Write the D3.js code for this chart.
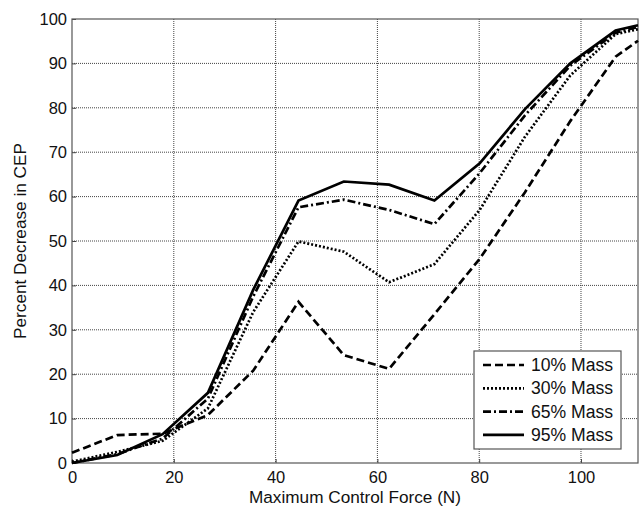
<!DOCTYPE html>
<html>
<head>
<meta charset="utf-8">
<script src="https://cdn.jsdelivr.net/npm/d3@7"></script>
<style>
  html, body { margin: 0; padding: 0; background: #fff; }
  svg { display: block; font-family: "Liberation Sans", Arial, sans-serif; }
</style>
</head>
<body>
<svg id="chart" width="641" height="510"></svg>
<script>
// Control force samples (N), 2 lbf steps
const forces = [0, 8.9, 17.8, 26.7, 35.6, 44.5, 53.4, 62.3, 71.2, 80.1, 89.0, 97.9, 106.8, 111.2];

const mass10 = [2.3, 6.3, 6.6, 10.8, 20.8, 36.3, 24.3, 21.2, 33.5, 46.0, 61.0, 77.0, 91.5, 95.1];
const mass30 = [0.3, 2.5, 5.0, 12.3, 34.0, 49.9, 47.6, 40.7, 44.8, 57.0, 73.5, 87.3, 96.6, 97.7];
const mass65 = [0.0, 2.0, 5.5, 14.5, 37.5, 57.6, 59.3, 57.0, 53.8, 65.3, 78.3, 89.5, 96.9, 98.2];
const mass95 = [0.0, 1.8, 6.5, 15.8, 39.0, 59.1, 63.4, 62.7, 59.1, 67.5, 79.7, 90.0, 97.4, 98.6];

const seriesNames = ["10% Mass", "30% Mass", "65% Mass", "95% Mass"];
const seriesValues = [mass10, mass30, mass65, mass95];
const dashes = ["8,4", "2,2", "8,3,2,3", null];

const xTicks = [0, 20, 40, 60, 80, 100];
const yTicks = [0, 10, 20, 30, 40, 50, 60, 70, 80, 90, 100];

const xTitle = "Maximum Control Force (N)";
const yTitle = "Percent Decrease in CEP";

const svg = d3.select("#chart");
const margin = { left: 72, top: 19, right: 638, bottom: 463 };

const x = d3.scaleLinear().domain([0, 111.2]).range([margin.left, margin.right]);
const y = d3.scaleLinear().domain([0, 100]).range([margin.bottom, margin.top]);

// grid
const grid = svg.append("g");
grid.selectAll("line.gx").data(xTicks.filter(d => d > 0)).join("line")
  .attr("x1", d => x(d)).attr("x2", d => x(d))
  .attr("y1", margin.top).attr("y2", margin.bottom)
  .attr("stroke", "#444").attr("stroke-width", 1).attr("stroke-dasharray", "1,1");
grid.selectAll("line.gy").data(yTicks.filter(d => d > 0 && d < 100)).join("line")
  .attr("x1", margin.left).attr("x2", margin.right)
  .attr("y1", d => y(d)).attr("y2", d => y(d))
  .attr("stroke", "#444").attr("stroke-width", 1).attr("stroke-dasharray", "1,1");

// axes
const xAxis = svg.append("g").attr("transform", `translate(0,${margin.bottom})`)
  .call(d3.axisBottom(x).tickValues(xTicks).tickSize(-4).tickPadding(8));
const yAxis = svg.append("g").attr("transform", `translate(${margin.left},0)`)
  .call(d3.axisLeft(y).tickValues(yTicks).tickSize(-4).tickPadding(5));
[xAxis, yAxis].forEach(a => {
  a.select(".domain").remove();
  a.selectAll("line").attr("stroke", "#444");
  a.selectAll("text").attr("fill", "#111").style("font-size", "16.5px")
    .style("font-family", '"Liberation Sans", Arial, sans-serif');
});

// frame
svg.append("rect")
  .attr("x", margin.left).attr("y", margin.top)
  .attr("width", margin.right - margin.left).attr("height", margin.bottom - margin.top)
  .attr("fill", "none").attr("stroke", "#555").attr("stroke-width", 1.2);

// series
const line = d3.line().x((d, i) => x(forces[i])).y(d => y(d));
seriesValues.forEach((vals, k) => {
  svg.append("path").datum(vals)
    .attr("d", line)
    .attr("fill", "none")
    .attr("stroke", "#000")
    .attr("stroke-width", 2.7)
    .attr("stroke-dasharray", dashes[k]);
});

// titles
svg.append("text")
  .attr("x", 355).attr("y", 503)
  .attr("text-anchor", "middle")
  .style("font-size", "17.2px").attr("fill", "#111")
  .text(xTitle);
svg.append("text")
  .attr("transform", `translate(26,${(margin.top + margin.bottom) / 2}) rotate(-90)`)
  .attr("text-anchor", "middle")
  .style("font-size", "17.2px").attr("fill", "#111")
  .text(yTitle);

// legend
const lg = svg.append("g");
lg.append("rect")
  .attr("x", 474).attr("y", 351).attr("width", 147).attr("height", 98)
  .attr("fill", "#fff").attr("stroke", "#555").attr("stroke-width", 1.2);
seriesNames.forEach((name, k) => {
  const cy = 365 + k * 23.3;
  lg.append("line")
    .attr("x1", 483).attr("x2", 524).attr("y1", cy).attr("y2", cy)
    .attr("stroke", "#000").attr("stroke-width", 2.7)
    .attr("stroke-dasharray", dashes[k]);
  lg.append("text")
    .attr("x", 531).attr("y", cy).attr("dy", "0.35em")
    .style("font-size", "17.6px").attr("fill", "#111")
    .text(name);
});
</script>
</body>
</html>
